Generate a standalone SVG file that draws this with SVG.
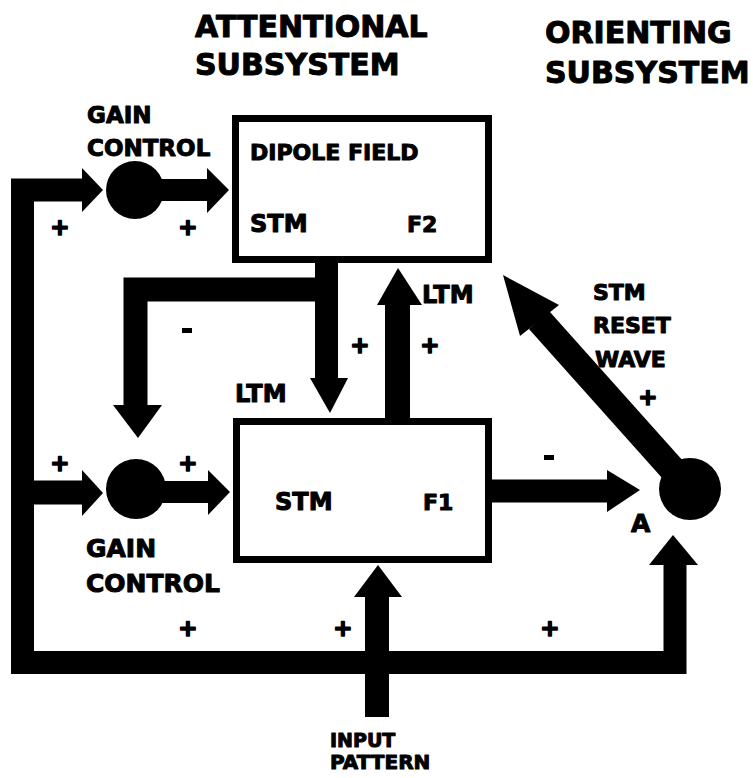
<svg xmlns="http://www.w3.org/2000/svg" width="753" height="778" viewBox="0 0 753 778">
<style>
text{font-family:"DejaVu Sans","Liberation Sans",sans-serif;font-weight:bold;fill:#000;stroke:#000;stroke-width:1;stroke-linejoin:round}
.box{fill:#fff;stroke:#000;stroke-width:7}
.bar{fill:none;stroke:#000;stroke-linejoin:miter;stroke-linecap:butt}
.head{fill:#000}
.pm{font-size:23px;text-anchor:middle;stroke-width:1.6}
</style>
<rect width="753" height="778" fill="#fff"/>
<g id="titles">
<text x="195" y="37" font-size="30">ATTENTIONAL</text>
<text x="195" y="75" font-size="30">SUBSYSTEM</text>
<text x="545" y="43" font-size="30">ORIENTING</text>
<text x="545" y="83" font-size="30">SUBSYSTEM</text>
</g>
<g id="connectors">
<path class="bar" stroke-width="23" d="M83 190 H22.5 V662.5 H675 V564"/>
<path class="bar" stroke-width="24" d="M22.5 492.5 H83"/>
<path class="bar" stroke-width="22" d="M160 190 H208"/>
<path class="bar" stroke-width="22" d="M160 492 H209"/>
<path class="bar" stroke-width="23" d="M326.5 262 V379"/>
<path class="bar" stroke-width="24" d="M338 289.5 H135.5 V406"/>
<path class="bar" stroke-width="25" d="M397.5 419 V304"/>
<path class="bar" stroke-width="23" d="M492 491 H608"/>
<path class="bar" stroke-width="24" d="M377 717 V596"/>
<path class="bar" stroke-width="27" d="M690 489 L539 320"/>
<polygon class="head" points="103,190 82,168 82,212"/>
<polygon class="head" points="229,190 207,168 207,213"/>
<polygon class="head" points="103,493 82,470 82,516"/>
<polygon class="head" points="230,492 208,470 208,515"/>
<polygon class="head" points="138,438 113,405 162,405"/>
<polygon class="head" points="330,413 310,378 348,378"/>
<polygon class="head" points="398,268 377,305 422,305"/>
<polygon class="head" points="640,490 607,470 607,512"/>
<polygon class="head" points="378,565 354,597 402,597"/>
<polygon class="head" points="673,535 649,565 698,565"/>
<polygon class="head" points="503,275 520,336 559,305"/>
</g>
<g id="f2">
<rect class="box" x="235.5" y="118.5" width="253" height="141"/>
<text x="250" y="160" font-size="22">DIPOLE FIELD</text>
<text x="250" y="232" font-size="24">STM</text>
<text x="407" y="232" font-size="22">F2</text>
</g>
<g id="f1">
<rect class="box" x="236.5" y="421.5" width="252" height="138"/>
<text x="275" y="510" font-size="24">STM</text>
<text x="423" y="510" font-size="22">F1</text>
</g>
<g id="gain-top">
<circle cx="135" cy="190" r="29"/>
<text x="87" y="123" font-size="23">GAIN</text>
<text x="87" y="156" font-size="23">CONTROL</text>
</g>
<g id="gain-bottom">
<circle cx="136" cy="489" r="30"/>
<text x="86" y="557" font-size="25">GAIN</text>
<text x="86" y="592" font-size="25">CONTROL</text>
</g>
<g id="orienting-a">
<circle cx="690" cy="489" r="31"/>
<text x="631" y="532" font-size="25">A</text>
</g>
<g id="labels">
<text x="235" y="402" font-size="24">LTM</text>
<text x="422" y="303" font-size="24">LTM</text>
<text x="593" y="300" font-size="22">STM</text>
<text x="593" y="333" font-size="22">RESET</text>
<text x="595" y="367" font-size="22">WAVE</text>
<text x="330" y="747" font-size="19">INPUT</text>
<text x="330" y="769" font-size="20">PATTERN</text>
<text class="pm" x="60" y="235">+</text>
<text class="pm" x="188" y="235">+</text>
<text class="pm" x="360" y="353">+</text>
<text class="pm" x="430" y="353">+</text>
<text class="pm" x="648" y="405">+</text>
<text class="pm" x="60" y="471">+</text>
<text class="pm" x="188" y="471">+</text>
<text class="pm" x="188" y="636">+</text>
<text class="pm" x="343" y="636">+</text>
<text class="pm" x="550" y="636">+</text>
<rect x="182" y="328" width="10" height="5"/>
<rect x="544" y="455" width="10" height="5"/>
</g>
</svg>
